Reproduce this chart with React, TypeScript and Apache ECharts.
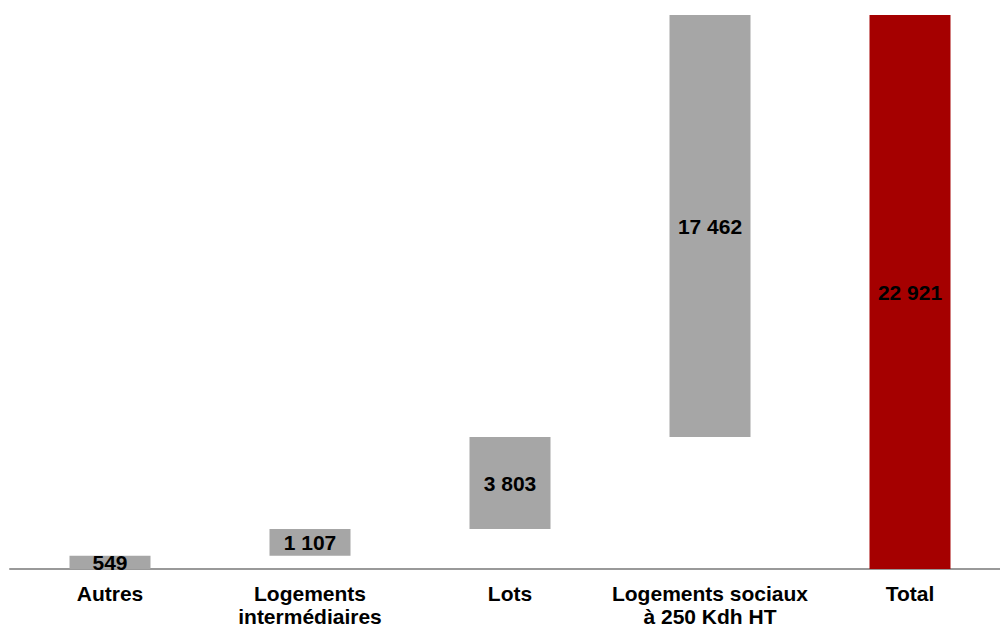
import React, { useEffect, useRef } from "react";
import * as echarts from "echarts";

// Waterfall of housing components, ending in the total
const categories = [
  "Autres",
  "Logements\nintermédiaires",
  "Lots",
  "Logements sociaux\nà 250 Kdh HT",
  "Total",
];
const steps = [549, 1107, 3803, 17462];
const total = 22921;

const GREY = "#A6A6A6";
const RED = "#A50000";
const FONT = "Liberation Sans, Arial, sans-serif";

const fmt = (v: number) =>
  String(Math.round(v)).replace(/\B(?=(\d{3})+(?!\d))/g, " ");

export default function App() {
  const ref = useRef<HTMLDivElement>(null);

  useEffect(() => {
    document.body.style.margin = "0";
    if (!ref.current) return;
    const chart = echarts.init(ref.current, null, { renderer: "svg" });

    // invisible offsets so each step starts where the previous one ended
    const bases: number[] = [];
    let run = 0;
    for (const s of steps) {
      bases.push(run);
      run += s;
    }
    bases.push(0);
    const visible = [...steps, total].map((v, i) => ({
      value: v,
      itemStyle: { color: i === steps.length ? RED : GREY },
    }));

    chart.setOption({
      animation: false,
      grid: { left: 10, top: 15, right: 10, bottom: 59, containLabel: false },
      xAxis: {
        type: "category",
        data: categories,
        axisLine: { show: true, lineStyle: { color: "#999999", width: 2 } },
        axisTick: { show: false },
        axisLabel: {
          color: "#000",
          fontFamily: FONT,
          fontWeight: "bold",
          fontSize: 21,
          lineHeight: 23,
          margin: 13,
          interval: 0,
        },
      },
      yAxis: {
        type: "value",
        min: 0,
        max: total,
        show: false,
        splitLine: { show: false },
      },
      series: [
        {
          type: "bar",
          stack: "w",
          data: bases,
          barWidth: 81,
          itemStyle: { color: "transparent" },
          silent: true,
        },
        {
          type: "bar",
          stack: "w",
          data: visible,
          barWidth: 81,
          label: {
            show: true,
            position: "inside",
            color: "#000",
            fontFamily: FONT,
            fontWeight: "bold",
            fontSize: 21,
            formatter: (p: any) => fmt(p.value),
          },
        },
      ],
    });
    return () => chart.dispose();
  }, []);

  // the plot runs past the right edge, so the frame crops it
  return (
    <div style={{ width: 1000, height: 628, overflow: "hidden" }}>
      <div ref={ref} style={{ width: 1020, height: 628 }} />
    </div>
  );
}
